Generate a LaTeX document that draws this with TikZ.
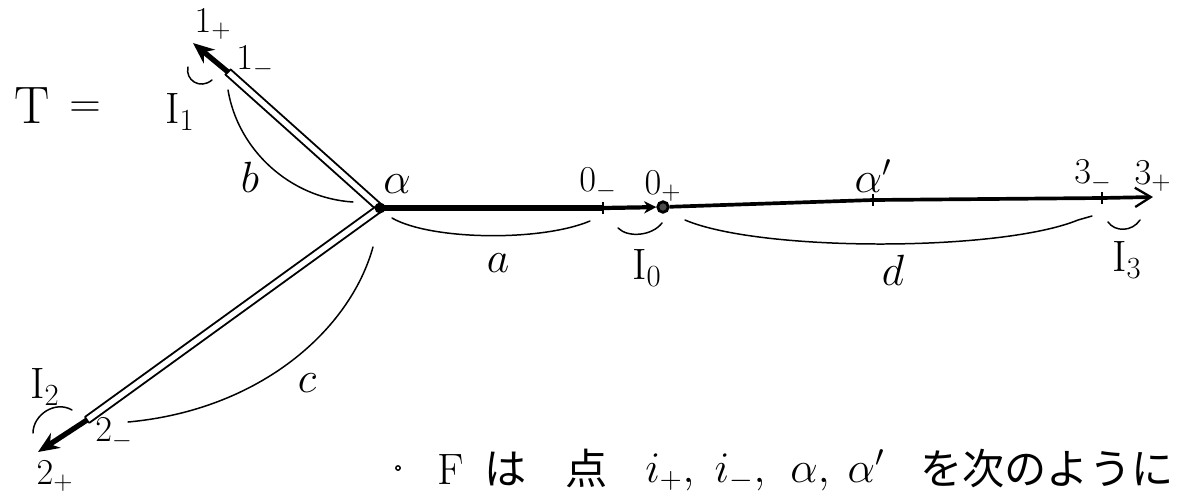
\documentclass[tikz,border=0pt]{standalone}
\usepackage{fontspec}
\newfontfamily\jpfont{Noto Sans CJK JP}
\usetikzlibrary{arrows.meta,calc}
\tikzset{
  lbl/.style={font=\fontsize{26}{30}\selectfont, inner sep=0pt},
  ilbl/.style={font=\fontsize{25}{29}\selectfont, inner sep=0pt},
  numlbl/.style={font=\fontsize{21}{24}\selectfont, inner sep=0pt},
  bigl/.style={font=\fontsize{30}{34}\selectfont, inner sep=0pt},
  brace/.style={line width=0.85pt, line cap=round},
  dbl/.style={double, line width=1.1pt, double distance=3pt},
  thickedge/.style={line width=3pt},
  tickmark/.style={line width=1.3pt},
  jp/.style={font=\jpfont\fontsize{24}{28}\selectfont, inner sep=0pt, anchor=base},
  jpm/.style={font=\fontsize{25}{28}\selectfont, inner sep=0pt, anchor=base},
}
\begin{document}
\begin{tikzpicture}[x=0.02cm, y=-0.02cm]
\useasboundingbox (0,0) rectangle (1180,495);
% points
\coordinate (al) at (380,208);
\coordinate (p1m) at (228,72);
\coordinate (p1p) at (193,43);
\coordinate (p2m) at (87,420);
\coordinate (p2p) at (38,452);
\coordinate (z0m) at (603,208);
\coordinate (alp) at (873,200);
\coordinate (p3m) at (1102,198);
\coordinate (p3p) at (1153,197);
\node[circle, draw, line width=1.6pt, fill=black!70, inner sep=0pt, minimum size=10.5*0.02cm] (z0p) at (663,207) {};
% edges
\draw[dbl] (al) -- (p1m);
\draw[dbl] (al) -- (p2m);
\draw[thickedge, -{Stealth[length=12pt,width=10pt]}] (p1m) -- (p1p);
\draw[thickedge, -{Stealth[length=12pt,width=10pt]}] (p2m) -- (p2p);
\draw[line width=3pt] (al) -- (z0m);
\draw[line width=2.4pt, -{Stealth[length=7pt,width=7pt]}] (z0m) -- (z0p);
\draw[line width=2.1pt, -{Straight Barb[length=9pt,width=11pt,line width=1.3pt]}] (z0p) -- (alp) -- (p3m) -- (p3p);
\fill (al) circle (5.5*0.02cm);
\draw[tickmark] ($(z0m)+(0,-6)$) -- ($(z0m)+(0,6)$);
\draw[tickmark] ($(alp)+(0,-6)$) -- ($(alp)+(0,6)$);
\draw[tickmark] ($(p3m)+(0,-6)$) -- ($(p3m)+(0,6)$);
\draw[line width=1pt] ($(p1m)+(-3,3)$) -- ($(p1m)+(3,-3)$);
\draw[line width=1pt] ($(p2m)+(-2,-3)$) -- ($(p2m)+(2,3)$);
% braces
\draw[brace] (228,90) .. controls (238,150) and (290,198) .. (353,202);
\draw[brace] (392,218) .. controls (430,240) and (540,242) .. (590,221);
\draw[brace] (618,228) .. controls (628,238) and (652,236) .. (662,223);
\draw[brace] (685,220) .. controls (760,252) and (1000,252) .. (1078,220) -- (1092,216);
\draw[brace] (1108,222) .. controls (1115,232) and (1132,232) .. (1140,220);
\draw[brace] (373,247) .. controls (350,330) and (260,410) .. (128,422);
\draw[brace] (33,433) .. controls (33,415) and (55,400) .. (72,410);
\draw[brace] (188,67) .. controls (185,80) and (200,90) .. (212,80);
% labels
\node[bigl] (T) at (32,106) {T};
\node[bigl] (eq) at (85,110) {$=$};
\node[ilbl] (I1) at (180,112) {$\mathrm{I}_{\mathrm{1}}$};
\node[numlbl] (l1p) at (213,24) {$1_+$};
\node[numlbl] (l1m) at (255,62) {$1_-$};
\node[lbl] (lb) at (250,177) {$b$};
\node[lbl] (lal) at (397,184) {$\alpha$};
\node[numlbl] (l0m) at (598,184) {$0_-$};
\node[numlbl] (l0p) at (663,186) {$0_+$};
\node[lbl] (lalp) at (873,176) {$\alpha'$};
\node[numlbl] (l3m) at (1093,176) {$3_-$};
\node[numlbl] (l3p) at (1153,176) {$3_+$};
\node[lbl] (la) at (498,263) {$a$};
\node[ilbl] (lI0) at (647,268) {$\mathrm{I}_{\mathrm{0}}$};
\node[lbl] (ld) at (893,270) {$d$};
\node[ilbl] (lI3) at (1127,260) {$\mathrm{I}_{\mathrm{3}}$};
\node[ilbl] (lI2) at (45,387) {$\mathrm{I}_{\mathrm{2}}$};
\node[lbl] (lc) at (307,383) {$c$};
\node[numlbl] (l2m) at (114,434) {$2_-$};
\node[numlbl] (l2p) at (55,476) {$2_+$};
% bottom text
\draw[line width=0.8pt] (398,468) circle (2.2*0.02cm);
\node[jpm] (tF) at (451,484) {F};
\node[jp] (tha) at (506,484) {は};
\node[jp] (tten) at (587,484) {点};
\node[jpm] (tip) at (670,482) {$i_+,$};
\node[jpm] (tim) at (740,482) {$i_-,$};
\node[jpm] (tal) at (810,482) {$\alpha,$};
\node[jpm] (talp) at (866,482) {$\alpha'$};
\node[jp, anchor=base west] (trest) at (920,484) {を次のように};
\end{tikzpicture}
\end{document}
